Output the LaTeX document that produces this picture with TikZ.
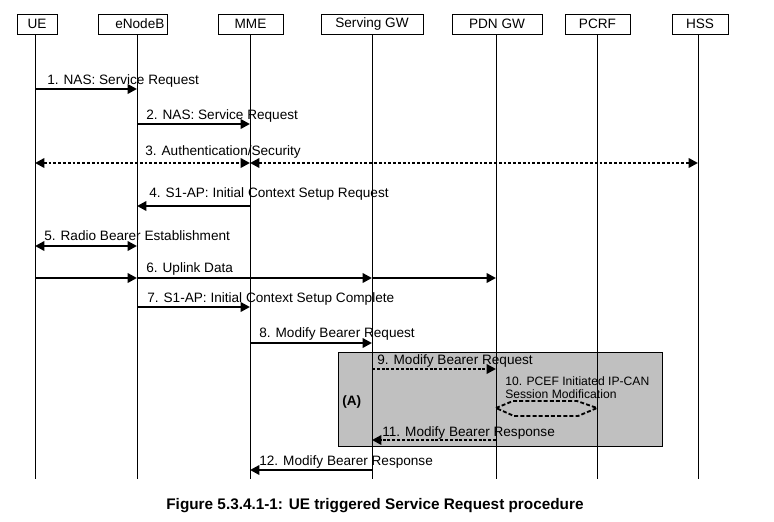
\documentclass[tikz,border=0pt]{standalone}
\usepackage{fontspec}
\setmainfont{Liberation Sans}
\usetikzlibrary{arrows.meta}
\definecolor{boxgray}{RGB}{192,192,192}

\begin{document}
\begin{tikzpicture}[x=0.75pt, y=-0.75pt, >={Triangle[length=7pt,width=7pt]},
    hdr/.style={draw, line width=0.7pt, minimum height=15pt, inner sep=0pt, font=\fontsize{10.2}{12}\selectfont},
    life/.style={line width=0.75pt},
    msg/.style={line width=2pt},
    dotmsg/.style={line width=2.2pt, dash pattern=on 2.2pt off 1.4pt},
    dashmsg/.style={line width=1.4pt, dash pattern=on 3pt off 1.6pt},
    lbl/.style={anchor=base west, inner sep=0pt, font=\fontsize{10.2}{12}\selectfont}]
    \useasboundingbox (0,0) rectangle (774,521);

    % Kopfkästen der Netzelemente
    \node[hdr, minimum width=30pt] (ue) at (37,24) {UE};
    \node[hdr, minimum width=51.75pt] (enb) at (132.5,24) {\hspace*{11pt}eNodeB};
    \node[hdr, minimum width=48.75pt] (mme) at (250.5,24) {MME};
    \node[hdr, minimum width=76.5pt] (sgw) at (372,24) {Serving GW};
    \node[hdr, minimum width=67.5pt] (pgw) at (497,24) {PDN GW};
    \node[hdr, minimum width=48.75pt] (pcrf) at (597.5,24) {PCRF};
    \node[hdr, minimum width=42pt] (hss) at (700,24) {HSS};

    % Lebenslinien und Zeilen der Nachrichten
    \foreach \n/\x in {ue/35, enb/137, mme/250, sgw/372, pgw/496, pcrf/597, hss/698} {
        \coordinate (\n-top) at (\x,34);
        \coordinate (\n-bot) at (\x,479);
    }
    \foreach \r/\y in {1/89, 2/124, 3/163, 4/206, 5/246, 6/278, 7/307, 8/343, 9/369, 10/408, 11/440, 12/470}
        \coordinate (r\r) at (0,\y);

    % Bereich (A)
    \draw[fill=boxgray, line width=0.7pt] (338,352) rectangle (662,446);
    \node[anchor=base west, inner sep=0pt, font=\bfseries\fontsize{10.2}{12}\selectfont] (boxa) at (342,405) {(A)};

    \foreach \n in {ue, enb, mme, sgw, pgw, pcrf, hss}
        \draw[life] (\n-top) -- (\n-bot);

    % Nachrichten
    \draw[msg, ->] (ue-top |- r1) -- (enb-top |- r1);
    \draw[msg, ->] (enb-top |- r2) -- (mme-top |- r2);
    \draw[dotmsg, <->] (ue-top |- r3) -- (mme-top |- r3);
    \draw[dotmsg, <->] (mme-top |- r3) -- (hss-top |- r3);
    \draw[msg, ->] (mme-top |- r4) -- (enb-top |- r4);
    \draw[msg, <->] (ue-top |- r5) -- (enb-top |- r5);
    \draw[msg, ->] (ue-top |- r6) -- (enb-top |- r6);
    \draw[msg, ->] (enb-top |- r6) -- (sgw-top |- r6);
    \draw[msg, ->] (sgw-top |- r6) -- (pgw-top |- r6);
    \draw[msg, ->] (enb-top |- r7) -- (mme-top |- r7);
    \draw[msg, ->] (mme-top |- r8) -- (sgw-top |- r8);
    \draw[dotmsg, ->] (sgw-top |- r9) -- (pgw-top |- r9);
    \draw[dashmsg] (pgw-top |- r10) -- ++(17,-7) -- ++(64,0) -- (pcrf-top |- r10) -- ++(-19,8) -- ++(-64,0) -- cycle;
    \draw[dotmsg, ->] (pgw-top |- r11) -- (sgw-top |- r11);
    \draw[msg, ->] (sgw-top |- r12) -- (mme-top |- r12);

    % Beschriftungen
    \node[lbl] (l1) at (47,84) {1. NAS: Service Request};
    \node[lbl] (l2) at (146,119) {2. NAS: Service Request};
    \node[lbl] (l3) at (145,155) {3. Authentication/Security};
    \node[lbl] (l4) at (149,197) {4. S1-AP: Initial Context Setup Request};
    \node[lbl] (l5) at (44,240) {5. Radio Bearer Establishment};
    \node[lbl] (l6) at (146,272) {6. Uplink Data};
    \node[lbl] (l7) at (147,302) {7. S1-AP: Initial Context Setup Complete};
    \node[lbl] (l8) at (259,337) {8. Modify Bearer Request};
    \node[lbl] (l9) at (377,364) {9. Modify Bearer Request};
    \node[lbl, font=\fontsize{9.1}{10}\selectfont] (l10a) at (505,385) {10. PCEF Initiated IP-CAN};
    \node[lbl, font=\fontsize{9.1}{10}\selectfont] (l10b) at (505,398) {Session Modification};
    \node[lbl] (l11) at (382,436) {11. Modify Bearer Response};
    \node[lbl] (l12) at (259,465) {12. Modify Bearer Response};

    \node[anchor=base, font=\bfseries\fontsize{11.5}{14}\selectfont] (cap) at (375,509) {Figure 5.3.4.1-1: UE triggered Service Request procedure};
\end{tikzpicture}
\end{document}
